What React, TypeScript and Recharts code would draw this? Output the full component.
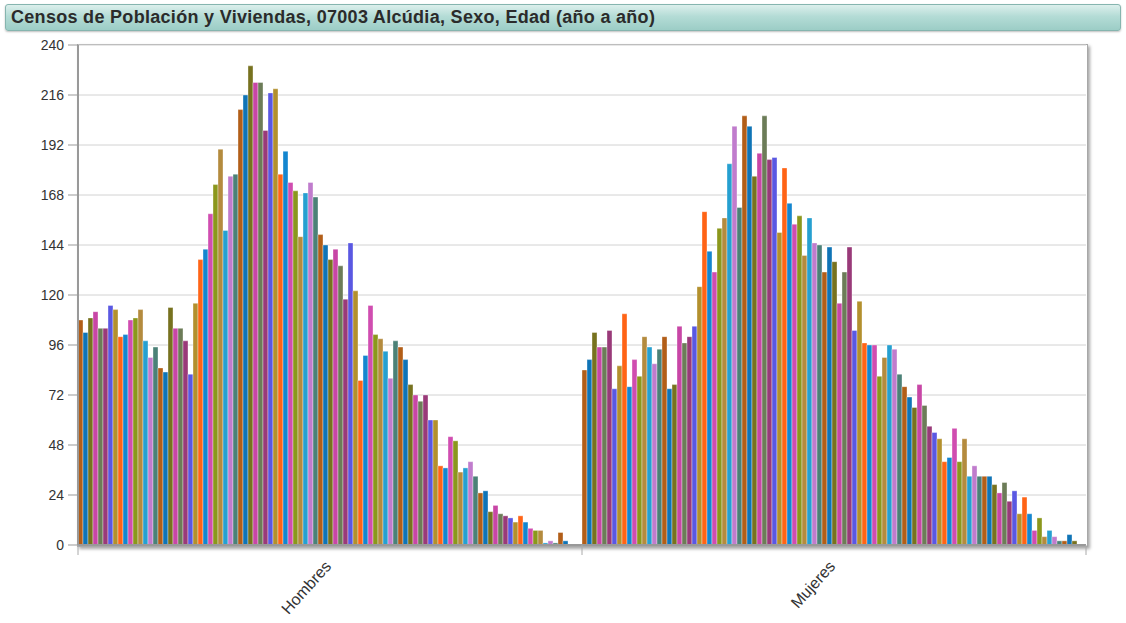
import { BarChart, Bar, XAxis, YAxis, CartesianGrid } from "recharts";

const categorias = ["Hombres", "Mujeres"];

// población por edad (0..99)
const hombres = [
  108, 102, 109, 112, 104, 104, 115, 113, 100, 101,
  108, 109, 113, 98, 90, 95, 85, 83, 114, 104,
  104, 98, 82, 116, 137, 142, 159, 173, 190, 151,
  177, 178, 209, 216, 230, 222, 222, 199, 217, 219,
  178, 189, 174, 170, 148, 169, 174, 167, 149, 144,
  137, 142, 134, 118, 145, 122, 79, 91, 115, 101,
  99, 93, 80, 98, 95, 89, 77, 72, 69, 72,
  60, 60, 38, 37, 52, 50, 35, 37, 40, 33,
  25, 26, 16, 19, 15, 14, 13, 11, 14, 11,
  8, 7, 7, 1, 2, 1, 6, 2, 0, 0,
];

const mujeres = [
  84, 89, 102, 95, 95, 103, 75, 86, 111, 76,
  89, 81, 100, 95, 87, 94, 100, 75, 77, 105,
  97, 100, 105, 124, 160, 141, 131, 152, 157, 183,
  201, 162, 206, 201, 177, 188, 206, 185, 186, 150,
  181, 164, 154, 158, 139, 157, 145, 144, 131, 143,
  136, 116, 131, 143, 103, 117, 97, 96, 96, 81,
  90, 96, 94, 82, 76, 71, 66, 77, 67, 57,
  54, 51, 40, 42, 56, 40, 51, 33, 38, 33,
  33, 33, 29, 25, 30, 21, 26, 15, 23, 15,
  7, 13, 4, 7, 4, 2, 2, 5, 2, 0,
];

const yTicks = [0, 24, 48, 72, 96, 120, 144, 168, 192, 216, 240];

const paleta = [
  "#b25e18", "#0f74b6", "#77721f", "#c846a6",
  "#6c7c58", "#993a79", "#5a58e2", "#b3902d",
  "#ff6416", "#1486cf", "#d04db0", "#8b971c",
  "#b48b3e", "#26a0d0", "#c07ccd", "#4b8177",
];

const edades = hombres.map((_, i) => `${i} años`);

const data = categorias.map((sexo, c) => {
  const valores = c === 0 ? hombres : mujeres;
  const row: any = { sexo };
  edades.forEach((e, i) => {
    row[e] = valores[i];
  });
  return row;
});

const W = 1126;
const H = 623;
const margin = { top: 45, right: 40, bottom: 0, left: 0 };
const YW = 78;
const XH = 78;
const plotW = W - margin.left - margin.right - YW;
const plotH = H - margin.top - margin.bottom - XH;
const band = plotW / categorias.length;

const FONT = 'Arial, "Liberation Sans", sans-serif';

const XTick = (props: any) => {
  const { x, y, payload, index } = props;
  return (
    <g>
      <line x1={x - band / 2} y1={y - 8} x2={x - band / 2} y2={y + 2} stroke="#aaa" />
      {index === categorias.length - 1 && (
        <line x1={x + band / 2} y1={y - 8} x2={x + band / 2} y2={y + 2} stroke="#aaa" />
      )}
      <text
        x={0}
        y={0}
        transform={`translate(${x + 2},${y + 14}) rotate(-48)`}
        textAnchor="end"
        fontSize={16}
        fill="#333"
        fontFamily={FONT}
      >
        {payload.value}
      </text>
    </g>
  );
};

export default function App() {
  return (
    <div style={{ position: "fixed", left: 0, top: 0, width: W, height: H, background: "#fff", fontFamily: FONT }}>
      <div
        style={{
          position: "absolute",
          left: 5,
          top: 4,
          width: 1114,
          height: 25,
          borderRadius: 3,
          border: "1px solid #86b5af",
          background: "linear-gradient(to bottom, #dcefec 0%, #b4dcd6 45%, #9ccdc6 100%)",
          boxShadow: "0 1px 2px rgba(0,0,0,0.25)",
        }}
      >
        <span
          style={{
            position: "absolute",
            left: 5,
            top: 3,
            fontSize: 18,
            lineHeight: "18px",
            letterSpacing: 0.3,
            fontWeight: "bold",
            color: "#2b2b2b",
            whiteSpace: "nowrap",
          }}
        >
          Censos de Población y Viviendas, 07003 Alcúdia, Sexo, Edad (año a año)
        </span>
      </div>
      <div
        style={{
          position: "absolute",
          left: margin.left + YW - 1,
          top: margin.top - 1,
          width: plotW + 1,
          height: plotH + 1,
          border: "1px solid #a8a8a8",
          boxShadow: "2px 2px 3px rgba(0,0,0,0.35)",
        }}
      />
      <div style={{ position: "absolute", left: 0, top: 0 }}>
        <BarChart width={W} height={H} data={data} margin={margin} barGap={0} barCategoryGap={0}>
          <CartesianGrid vertical={false} stroke="#d2d2d2" />
          <XAxis
            dataKey="sexo"
            height={XH}
            tickLine={false}
            axisLine={{ stroke: "#999", strokeWidth: 2 }}
            tick={<XTick />}
            interval={0}
          />
          <YAxis
            width={YW}
            domain={[0, 240]}
            ticks={yTicks}
            interval={0}
            tickSize={10}
            tickMargin={4}
            axisLine={{ stroke: "#999", strokeWidth: 2 }}
            tickLine={{ stroke: "#999" }}
            tick={{ fontSize: 14, fill: "#333", fontFamily: FONT }}
          />
          {edades.map((e, i) => (
            <Bar
              key={e}
              dataKey={e}
              fill={paleta[i % paleta.length]}
              stroke="#ffffff"
              strokeOpacity={0.6}
              strokeWidth={0.6}
              isAnimationActive={false}
            />
          ))}
        </BarChart>
      </div>
    </div>
  );
}
